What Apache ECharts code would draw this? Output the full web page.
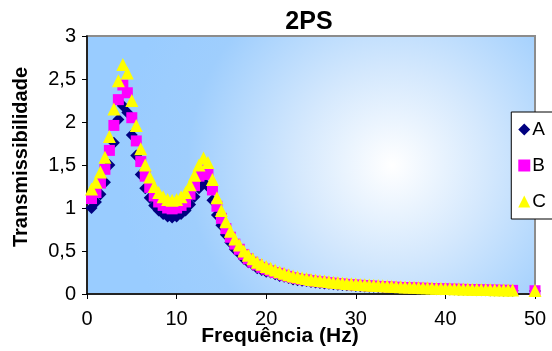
<!DOCTYPE html>
<html>
<head>
<meta charset="utf-8">
<script src="https://cdn.jsdelivr.net/npm/echarts@6/dist/echarts.min.js"></script>
<style>html,body{margin:0;padding:0;background:#fff}#c{width:552px;height:351px}</style>
</head>
<body>
<div id="c"></div>
<script>
var freq = [0.5,1,1.5,2,2.5,3,3.5,4,4.5,5,5.5,6,6.5,7,7.5,8,8.5,9,9.5,10,
  10.5,11,11.5,12,12.5,13,13.5,14,14.5,15,15.5,16,16.5,17,17.5,18,18.5,19,19.5,20,
  20.5,21,21.5,22,22.5,23,23.5,24,24.5,25,25.5,26,26.5,27,27.5,28,28.5,29,29.5,30,
  30.5,31,31.5,32,32.5,33,33.5,34,34.5,35,35.5,36,36.5,37,37.5,38,38.5,39,39.5,40,
  40.5,41,41.5,42,42.5,43,43.5,44,44.5,45,45.5,46,46.5,47,47.5,50];
var serA = [1.00,1.07,1.16,1.30,1.50,1.76,2.03,2.19,2.11,1.85,1.61,1.39,1.23,1.12,1.03,0.97,0.93,0.90,0.89,0.90,
  0.93,0.97,1.04,1.13,1.23,1.30,1.25,1.09,0.92,0.80,0.69,0.60,0.52,0.47,0.41,0.37,0.34,0.30,0.28,0.26,
  0.25,0.23,0.21,0.20,0.185,0.17,0.16,0.155,0.15,0.14,0.134,0.128,0.123,0.118,0.113,0.109,0.105,0.101,0.098,0.094,
  0.091,0.088,0.085,0.083,0.080,0.078,0.075,0.073,0.071,0.069,0.067,0.066,0.064,0.062,0.061,0.059,0.057,0.056,0.054,0.053,
  0.052,0.051,0.049,0.048,0.047,0.046,0.045,0.043,0.043,0.042,0.041,0.040,0.039,0.038,0.038,0.034];
var serB = [1.11,1.18,1.29,1.45,1.67,1.96,2.26,2.43,2.34,2.05,1.78,1.54,1.37,1.24,1.14,1.07,1.03,1.00,0.99,1.00,
  1.03,1.07,1.16,1.26,1.37,1.44,1.39,1.21,1.02,0.88,0.76,0.66,0.58,0.52,0.46,0.41,0.37,0.34,0.31,0.29,
  0.27,0.25,0.24,0.22,0.205,0.19,0.18,0.17,0.165,0.155,0.148,0.142,0.137,0.131,0.126,0.121,0.116,0.112,0.108,0.105,
  0.101,0.097,0.095,0.092,0.089,0.086,0.084,0.081,0.079,0.076,0.075,0.073,0.071,0.069,0.067,0.066,0.064,0.062,0.060,0.059,
  0.057,0.056,0.055,0.054,0.052,0.051,0.050,0.048,0.047,0.046,0.045,0.044,0.043,0.042,0.042,0.038];
var serC = [1.22,1.30,1.42,1.59,1.83,2.15,2.48,2.67,2.57,2.25,1.96,1.69,1.50,1.36,1.25,1.18,1.13,1.10,1.09,1.10,
  1.13,1.18,1.27,1.38,1.50,1.58,1.53,1.33,1.12,0.97,0.84,0.73,0.64,0.57,0.50,0.45,0.41,0.37,0.345,0.32,
  0.30,0.28,0.26,0.24,0.225,0.21,0.20,0.19,0.18,0.17,0.163,0.156,0.150,0.144,0.138,0.133,0.128,0.123,0.119,0.115,
  0.111,0.107,0.104,0.101,0.098,0.095,0.092,0.089,0.087,0.084,0.082,0.080,0.078,0.076,0.074,0.072,0.070,0.068,0.066,0.065,
  0.063,0.062,0.060,0.059,0.057,0.056,0.055,0.053,0.052,0.051,0.050,0.049,0.048,0.047,0.046,0.042];
var seriesNames = ['A','B','C'];
var xTicks = [0,10,20,30,40,50];
var yTicks = [0,0.5,1,1.5,2,2.5,3];

function pairs(ys){ return freq.map(function(f,i){ return [f, ys[i]]; }); }

var font = 'Liberation Sans, Arial, sans-serif';
var chart = echarts.init(document.getElementById('c'), null, {renderer:'canvas'});
chart.setOption({
  backgroundColor: '#ffffff',
  animation: false,
  title: {
    text: '2PS', left: 304, top: 5, textAlign: 'center',
    textStyle: {fontFamily: font, fontSize: 25, fontWeight: 'bold', color: '#000'}
  },
  grid: {
    left: 87, right: 17, top: 36, bottom: 57,
    containLabel: false, outerBoundsMode: 'none',
    show: true, borderColor: '#8c8c8c', borderWidth: 2,
    backgroundColor: {
      type: 'radial', x: 0.68, y: 0.5, r: 1.05,
      colorStops: [
        {offset: 0, color: '#ffffff'},
        {offset: 0.35, color: '#d4e8fd'},
        {offset: 0.75, color: '#9fcefd'},
        {offset: 1, color: '#99ccff'}
      ]
    }
  },
  legend: {
    orient: 'vertical', right: -4, top: 112,
    data: seriesNames,
    itemWidth: 12, itemHeight: 12, itemGap: 17,
    backgroundColor: '#ffffff', borderColor: '#000', borderWidth: 1,
    padding: [8, 10, 8, 7],
    textStyle: {fontFamily: font, fontSize: 19, color: '#000', padding: [0,0,0,-3]}
  },
  xAxis: {
    type: 'value', min: 0, max: 50, interval: 10,
    name: 'Frequência (Hz)', nameLocation: 'middle', nameGap: 32, nameMoveOverlap: false,
    nameTextStyle: {fontFamily: font, fontSize: 21, fontWeight: 'bold', color: '#000', padding: [0, 62, 0, 0]},
    axisLine: {show: true, onZero: false, lineStyle: {color: '#000', width: 1.5}},
    axisTick: {show: true, length: 5, lineStyle: {color: '#000'}},
    axisLabel: {fontFamily: font, fontSize: 20, color: '#000', margin: 15,
      formatter: function(v){ return xTicks.indexOf(v) >= 0 ? String(v) : ''; }},
    splitLine: {show: false}
  },
  yAxis: {
    type: 'value', min: 0, max: 3, interval: 0.5,
    name: 'Transmissibilidade', nameLocation: 'middle', nameGap: 56, nameMoveOverlap: false,
    nameTextStyle: {fontFamily: font, fontSize: 20, fontWeight: 'bold', color: '#000', padding: [0, 0, 0, 16]},
    axisLine: {show: true, onZero: false, lineStyle: {color: '#000', width: 1.5}},
    axisTick: {show: true, length: 5, lineStyle: {color: '#000'}},
    axisLabel: {fontFamily: font, fontSize: 20, color: '#000', margin: 11,
      formatter: function(v){ return yTicks.indexOf(v) >= 0 ? String(v).replace('.', ',') : ''; }},
    splitLine: {show: false}
  },
  series: [
    {name: 'A', type: 'scatter', symbol: 'diamond', symbolSize: 12, data: pairs(serA),
      itemStyle: {color: '#000080', opacity: 1}, clip: false},
    {name: 'B', type: 'scatter', symbol: 'rect', symbolSize: 11, data: pairs(serB),
      itemStyle: {color: '#ff00ff', opacity: 1}, clip: false},
    {name: 'C', type: 'scatter', symbol: 'triangle', symbolSize: 13, data: pairs(serC),
      itemStyle: {color: '#ffff00', opacity: 1}, clip: false}
  ]
});
</script>
</body>
</html>
